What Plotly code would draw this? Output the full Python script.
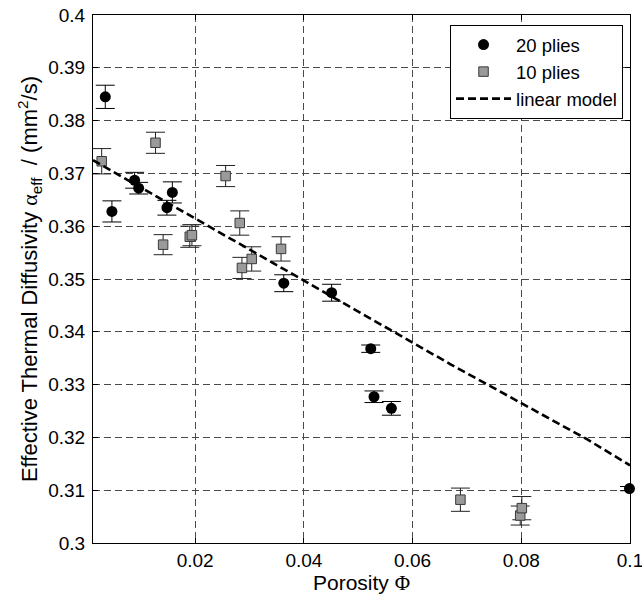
import plotly.graph_objects as go

# Measured effective thermal diffusivity (mm^2/s) vs. porosity
porosity_20 = [0.00346, 0.00468, 0.00886, 0.0096, 0.0148, 0.0158, 0.0363, 0.0451, 0.0523, 0.0529, 0.0561, 0.0999]
alpha_20 = [0.3845, 0.3628, 0.3687, 0.3672, 0.3635, 0.3664, 0.3492, 0.3474, 0.3368, 0.3277, 0.3255, 0.3103]
err_20 = [0.0022, 0.0020, 0.0015, 0.0011, 0.0014, 0.0020, 0.0016, 0.0016, 0.0007, 0.0011, 0.0013, 0.0004]

porosity_10 = [0.0028, 0.0127, 0.0141, 0.0190, 0.0194, 0.0256, 0.0282, 0.0286, 0.0304, 0.0358, 0.0688, 0.0798, 0.0801]
alpha_10 = [0.3723, 0.3758, 0.3565, 0.3580, 0.3583, 0.3695, 0.3606, 0.3521, 0.3538, 0.3557, 0.3082, 0.3052, 0.3066]
err_10 = [0.0024, 0.0020, 0.0019, 0.0020, 0.0020, 0.0020, 0.0023, 0.0020, 0.0023, 0.0023, 0.0022, 0.0018, 0.0022]

# Linear model curve
model_x = [0.0012, 0.040, 0.0669, 0.092, 0.1]
model_y = [0.3725, 0.3498, 0.3339, 0.3197, 0.3147]

x_ticks = [0.02, 0.04, 0.06, 0.08, 0.1]
y_ticks = [0.3, 0.31, 0.32, 0.33, 0.34, 0.35, 0.36, 0.37, 0.38, 0.39, 0.4]

FONT = "Arial, Liberation Sans, sans-serif"
SYM = "font-family:'Liberation Serif', 'Times New Roman', serif"
FS_TICK = 19
FS_LEG = 18.5
FS_X = 21
FS_Y = 22

fig = go.Figure()

fig.add_trace(go.Scatter(
    x=porosity_20, y=alpha_20, mode="markers", name="20 plies",
    marker=dict(symbol="circle", size=11, color="black"),
    error_y=dict(type="data", array=err_20, color="black", thickness=1, width=9.5),
    cliponaxis=False,
))

fig.add_trace(go.Scatter(
    x=porosity_10, y=alpha_10, mode="markers", name="10 plies",
    marker=dict(symbol="square", size=9.5, color="#9a9a9a", line=dict(color="#3a3a3a", width=1)),
    error_y=dict(type="data", array=err_10, color="#222222", thickness=1, width=9.5),
))

fig.add_trace(go.Scatter(
    x=model_x, y=model_y, mode="lines", name="linear model",
    line=dict(color="black", width=2.6, dash="8px,4px"),
))

axis_common = dict(
    showline=True, linecolor="black", linewidth=1, mirror="ticks",
    ticks="inside", ticklen=5, tickcolor="black",
    showgrid=True, gridcolor="#4a4a4a", gridwidth=1, griddash="7px,4px",
    zeroline=False, automargin=False, ticklabeloverflow="allow",
    tickfont=dict(family=FONT, size=FS_TICK, color="black"),
)

fig.update_xaxes(
    range=[0.0012, 0.1], tickvals=x_ticks,
    title=dict(text=f"Porosity <span style=\"{SYM}\">Φ</span>",
               font=dict(family=FONT, size=FS_X, color="black"), standoff=3),
    **axis_common,
)
fig.update_yaxes(
    range=[0.3, 0.4], tickvals=y_ticks, ticklabelstandoff=3,
    title=dict(text=f"Effective Thermal Diffusivity <span style=\"{SYM}\">α</span><sub>eff</sub>  / (mm<sup>2</sup>/s)",
               font=dict(family=FONT, size=FS_Y, color="black"), standoff=4),
    **axis_common,
)

fig.update_layout(
    width=642, height=599,
    margin=dict(l=93, r=12, t=15, b=56),
    paper_bgcolor="white", plot_bgcolor="white",
    font=dict(family=FONT, size=FS_LEG, color="black"),
    legend=dict(
        x=0.987, y=0.981, xanchor="right", yanchor="top",
        bgcolor="white", bordercolor="black", borderwidth=1,
        font=dict(family=FONT, size=FS_LEG, color="black"),
        itemwidth=55, tracegroupgap=0,
    ),
    showlegend=True,
)

fig.write_html("out.html")
